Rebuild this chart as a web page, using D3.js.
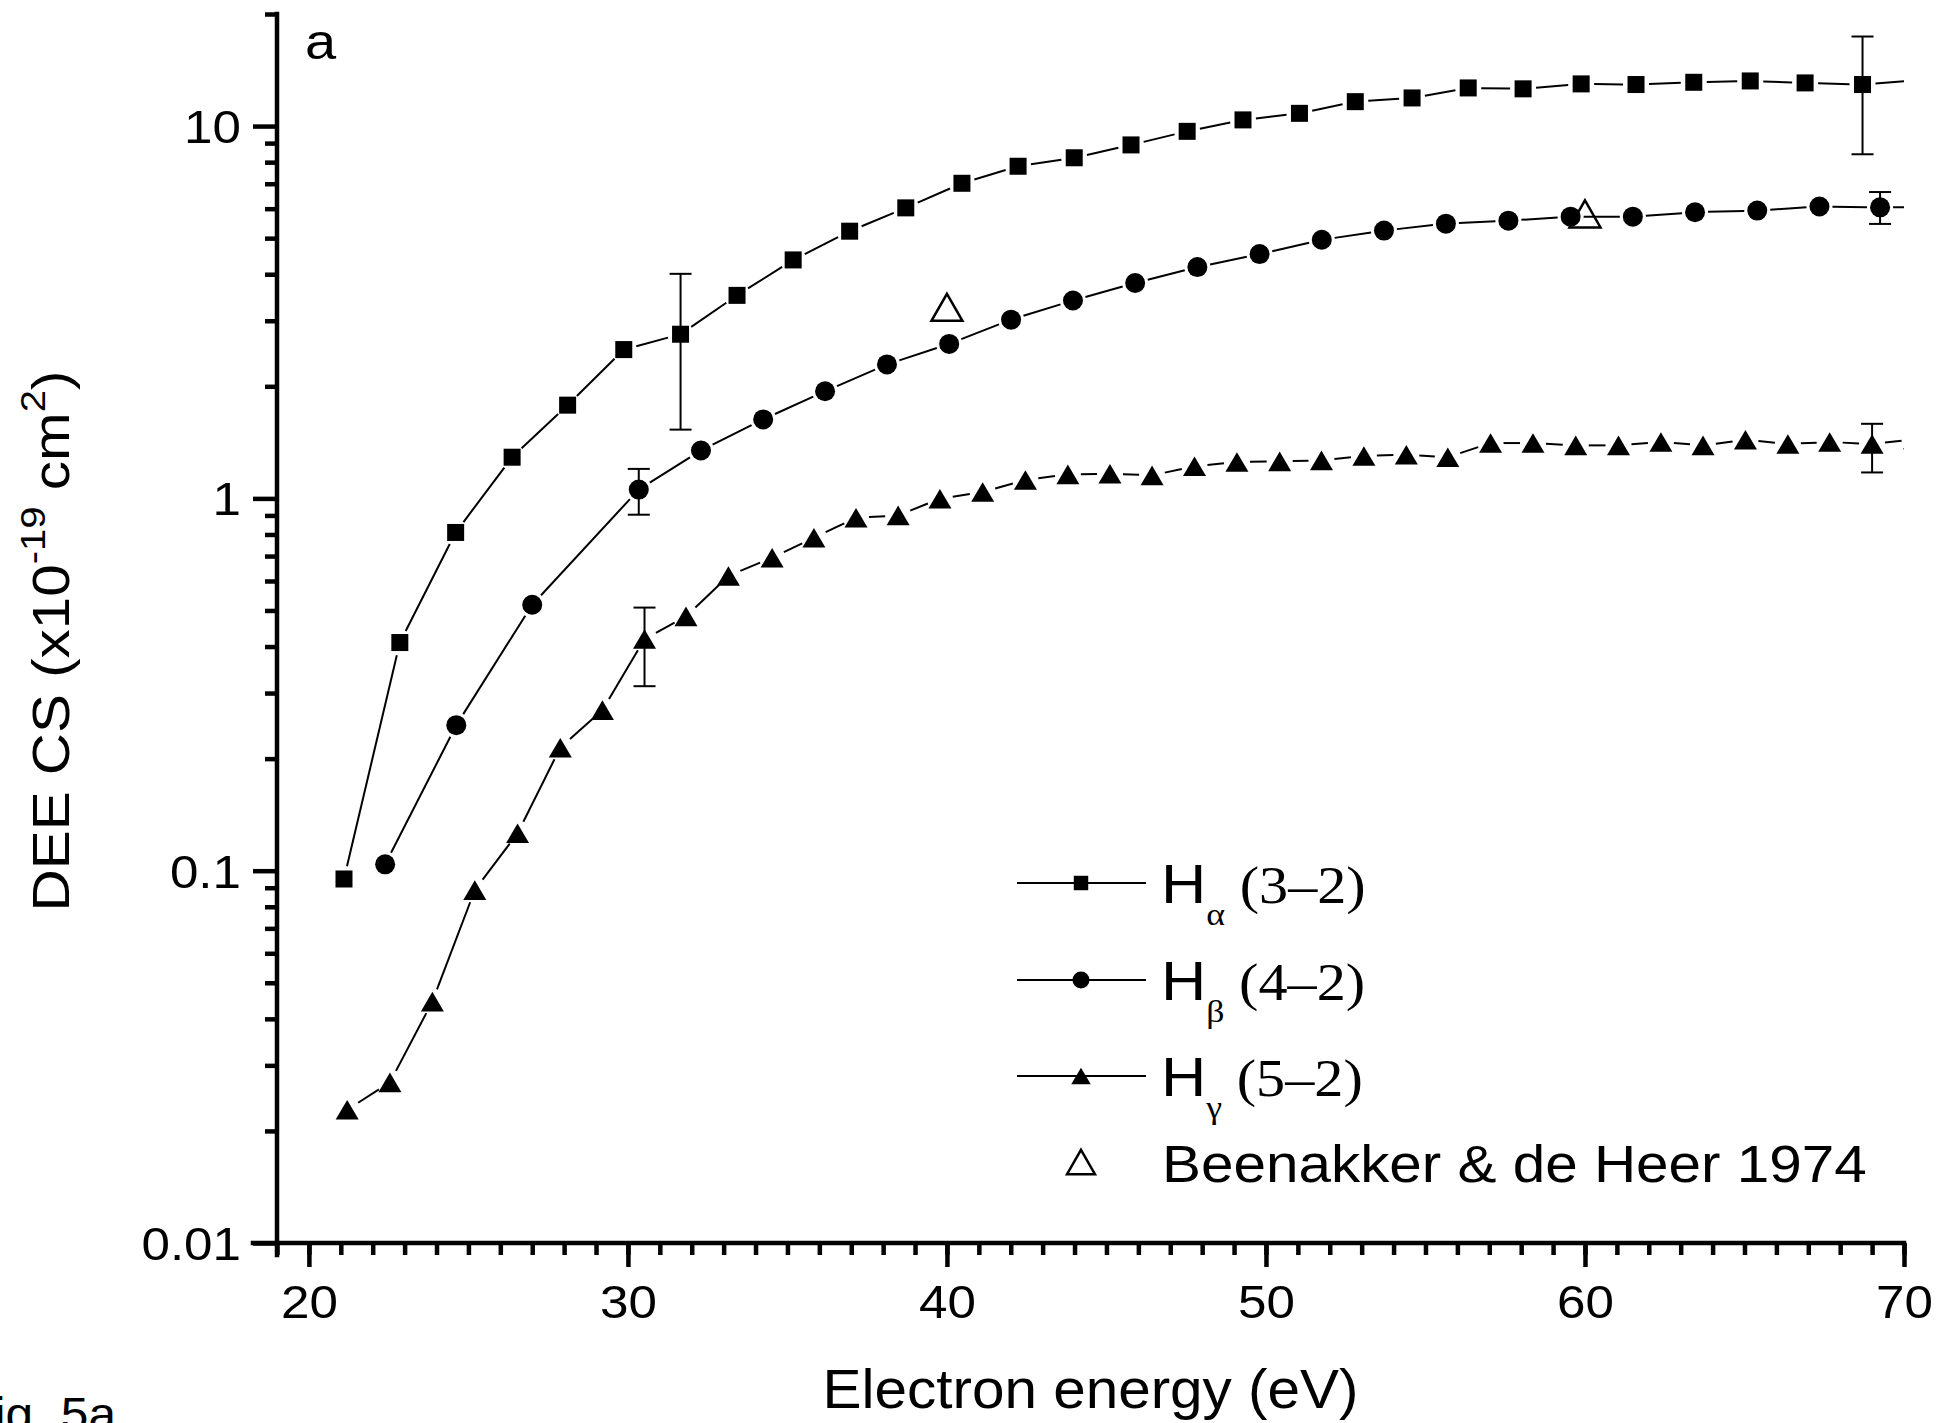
<!DOCTYPE html>
<html><head><meta charset="utf-8">
<script src="https://cdn.jsdelivr.net/npm/d3@7"></script>
<style>
html,body{margin:0;padding:0;background:#fff;}
svg{display:block;}
</style></head><body>
<svg id="chart" width="1936" height="1423"></svg>
<script>
// ---------------- data ----------------
const xDomain = [19, 70];
const yDomain = [0.01, 20];
const xMajorTicks = [20, 30, 40, 50, 60, 70];
const xMinorTicks = d3.range(19, 71, 1);
const yMajorTicks = [0.01, 0.1, 1, 10];
const yMinorTicks = [0.02,0.03,0.04,0.05,0.06,0.07,0.08,0.09,0.2,0.3,0.4,0.5,0.6,0.7,0.8,0.9,2,3,4,5,6,7,8,9,20];

// H-alpha (3-2)
const energyHa = [21.1,22.85,24.6,26.37,28.11,29.87,31.65,33.42,35.18,36.95,38.71,40.47,42.23,43.99,45.77,47.53,49.28,51.05,52.8,54.58,56.34,58.06,59.88,61.6,63.41,65.18,66.9,68.7,70.47];
const valueHa  = [0.095,0.41,0.81,1.29,1.78,2.51,2.76,3.51,4.37,5.22,6.03,7.02,7.8,8.22,8.9,9.68,10.39,10.82,11.63,11.9,12.66,12.59,12.98,12.93,13.11,13.22,13.06,12.93,13.3];
// H-beta (4-2)
const energyHb = [22.39,24.62,27.0,30.34,32.29,34.24,36.18,38.12,40.07,42.01,43.95,45.9,47.85,49.8,51.75,53.7,55.64,57.6,59.55,61.5,63.45,65.4,67.35,69.25,71.2];
const valueHb  = [0.104,0.246,0.518,1.056,1.345,1.63,1.94,2.29,2.60,3.02,3.40,3.79,4.18,4.53,4.95,5.24,5.47,5.57,5.71,5.71,5.87,5.93,6.08,6.05,6.05];
// H-gamma (5-2)
const energyHg = [21.2,22.54,23.87,25.2,26.54,27.88,29.2,30.52,31.82,33.15,34.52,35.83,37.15,38.47,39.78,41.12,42.46,43.79,45.11,46.43,47.76,49.09,50.43,51.74,53.07,54.4,55.7,57.04,58.37,59.71,61.05,62.38,63.7,65.03,66.36,67.67,69.0,70.33];
const valueHg  = [0.0228,0.027,0.0445,0.0887,0.126,0.214,0.27,0.419,0.482,0.619,0.693,0.784,0.887,0.90,0.998,1.04,1.12,1.16,1.165,1.153,1.22,1.252,1.257,1.265,1.30,1.31,1.29,1.408,1.408,1.388,1.388,1.417,1.388,1.437,1.40,1.417,1.40,1.44];
// error bars: [energy, low, high]
const errorHa = [[31.65,1.53,4.01],[68.7,8.4,17.4]];
const errorHb = [[30.34,0.904,1.20],[69.25,5.46,6.65]];
const errorHg = [[30.52,0.313,0.509],[69.0,1.174,1.586]];
// Beenakker & de Heer 1974
const energyBH = [40.0, 60.0];
const valueBH  = [3.26, 5.81];

const legendSub = ["\u03b1", "\u03b2", "\u03b3"];
const legendTrans = ["(3\u20132)", "(4\u20132)", "(5\u20132)"];
const legendRef = "Beenakker & de Heer 1974";
const xTitle = "Electron energy (eV)";
const panelLabel = "a";
const figLabel = "Fig. 5a";

// ---------------- layout ----------------
const SANS = "'Liberation Sans', Arial, sans-serif";
const SERIF = "'Liberation Serif', 'Times New Roman', serif";
const svg = d3.select('#chart');
const x = d3.scaleLinear().domain(xDomain).range([277, 1904]);
const y = d3.scaleLog().domain(yDomain).range([1243, 14]);
const X0 = x.range()[0], X1 = x.range()[1], Y0 = y.range()[0], Y1 = y.range()[1];
const AXW = 4.5, LW = 2;

svg.append('defs').append('clipPath').attr('id','plotclip')
  .append('rect').attr('x', X0).attr('y', Y1).attr('width', X1 - X0).attr('height', Y0 - Y1);

const plot = svg.append('g').attr('clip-path','url(#plotclip)');

function pts(es, vs){ return es.map((e,i)=>[x(e), y(vs[i])]); }
function gapped(p, gap){
  const segs=[];
  for(let i=0;i<p.length-1;i++){
    const [x1,y1]=p[i],[x2,y2]=p[i+1];
    const dx=x2-x1, dy=y2-y1, L=Math.hypot(dx,dy);
    if(L<=2*gap) continue;
    const ux=dx/L, uy=dy/L;
    segs.push([x1+ux*gap,y1+uy*gap,x2-ux*gap,y2-uy*gap]);
  }
  return segs;
}
const series = [
  {e:energyHa, v:valueHa, err:errorHa, shape:'square'},
  {e:energyHb, v:valueHb, err:errorHb, shape:'circle'},
  {e:energyHg, v:valueHg, err:errorHg, shape:'triangle'}
];
function marker(g, shape, cx, cy, s){
  if(shape==='square'){
    g.append('rect').attr('x',cx-8.5*s).attr('y',cy-8.5*s).attr('width',17*s).attr('height',17*s).attr('fill','#000');
  } else if(shape==='circle'){
    g.append('circle').attr('cx',cx).attr('cy',cy).attr('r',10*s).attr('fill','#000');
  } else if(shape==='triangle'){
    g.append('path').attr('d',`M${cx},${cy-9.8*s}L${cx+11.5*s},${cy+9.8*s}L${cx-11.5*s},${cy+9.8*s}Z`).attr('fill','#000');
  } else if(shape==='open'){
    g.append('path').attr('d',`M${cx},${cy-13.5*s}L${cx+15.5*s},${cy+13.5*s}L${cx-15.5*s},${cy+13.5*s}Z`)
      .attr('fill','none').attr('stroke','#000').attr('stroke-width',2.5).attr('stroke-linejoin','miter');
  }
}
// lines
series.forEach(sr=>{
  const p = pts(sr.e, sr.v);
  plot.append('g').selectAll('line').data(gapped(p, 13)).join('line')
    .attr('x1',d=>d[0]).attr('y1',d=>d[1]).attr('x2',d=>d[2]).attr('y2',d=>d[3])
    .attr('stroke','#000').attr('stroke-width',LW);
});
// error bars
series.forEach(sr=>{
  const g = plot.append('g').attr('stroke','#000').attr('stroke-width',LW);
  sr.err.forEach(([e,lo,hi])=>{
    const cx=x(e);
    g.append('line').attr('x1',cx).attr('x2',cx).attr('y1',y(lo)).attr('y2',y(hi));
    g.append('line').attr('x1',cx-11).attr('x2',cx+11).attr('y1',y(lo)).attr('y2',y(lo));
    g.append('line').attr('x1',cx-11).attr('x2',cx+11).attr('y1',y(hi)).attr('y2',y(hi));
  });
});
// markers
series.forEach(sr=>{
  const g = plot.append('g');
  pts(sr.e, sr.v).forEach(([cx,cy])=>marker(g, sr.shape, cx, cy, 1));
});
const gbh = plot.append('g');
pts(energyBH, valueBH).forEach(([cx,cy])=>marker(gbh,'open',cx,cy,1));

// ---------------- axes ----------------
function styleAxis(g){
  g.attr('font-family', null).attr('font-size', null);
  g.selectAll('line').attr('stroke','#000').attr('stroke-width',AXW);
  g.selectAll('path.domain').attr('stroke','#000').attr('stroke-width',AXW).attr('stroke-linecap','square');
}
const TS = 1.1; // horizontal text stretch
// x minor
const gxm = svg.append('g').attr('transform',`translate(0,${Y0})`)
  .call(d3.axisBottom(x).tickValues(xMinorTicks).tickSize(12).tickSizeOuter(0).tickFormat(''));
gxm.select('.domain').remove();
styleAxis(gxm);
const gx = svg.append('g').attr('transform',`translate(0,${Y0})`)
  .call(d3.axisBottom(x).tickValues(xMajorTicks).tickSize(24).tickSizeOuter(0).tickFormat(d3.format('d')));
styleAxis(gx);
gx.select('.domain').attr('d', `M${X0-24},0H${X1}`);
gx.selectAll('text').attr('y',null).attr('dy',null)
  .attr('transform',`translate(0,75) scale(${TS},1)`)
  .attr('font-family',SANS).attr('font-size',46.5).attr('fill','#000');
// y minor
const gym = svg.append('g').attr('transform',`translate(${X0},0)`)
  .call(d3.axisLeft(y).tickValues(yMinorTicks).tickSize(12).tickSizeOuter(0).tickFormat(''));
gym.select('.domain').remove();
styleAxis(gym);
const gy = svg.append('g').attr('transform',`translate(${X0},0)`)
  .call(d3.axisLeft(y).tickValues(yMajorTicks).tickSize(24).tickSizeOuter(0).tickFormat(d=>String(d)));
styleAxis(gy);
gy.select('.domain').attr('d', `M0,${Y0+12}V${Y1}`);
gy.selectAll('text').attr('x',null).attr('dy',null)
  .attr('transform',`translate(-36,16.6) scale(${TS},1)`)
  .attr('font-family',SANS).attr('font-size',46.5).attr('fill','#000');

// ---------------- titles ----------------
function fit(sel, target){
  const w = sel.node().getBBox().width;
  return target / w;
}
// x title
const xt = svg.append('text').attr('font-family',SANS).attr('font-size',56).attr('text-anchor','middle').text(xTitle);
const sxt = fit(xt, 536);
xt.attr('transform',`translate(${(X0+X1)/2},1408) scale(${sxt},1)`);
// y title
const yt = svg.append('text').attr('font-family',SANS).attr('font-size',51).attr('text-anchor','middle');
yt.append('tspan').text('DEE CS (x10');
yt.append('tspan').attr('font-size',35).attr('dy',-23.5).text('-19');
yt.append('tspan').attr('dy',23.5).text('\u00a0cm');
yt.append('tspan').attr('font-size',35).attr('dy',-23.5).text('2');
yt.append('tspan').attr('dy',23.5).text(')');
const syt = fit(yt, 541);
yt.attr('transform',`translate(68.5,641) rotate(-90) scale(${syt},1)`);
// panel label
svg.append('text').attr('font-family',SANS).attr('font-size',50).attr('transform',`translate(305,59) scale(1.12,1)`).text(panelLabel);
// fig label (cut off at the page edge, as in the original)
svg.append('text').attr('font-family',SANS).attr('font-size',46).attr('text-anchor','end')
  .attr('transform',`translate(116,1430) scale(1.08,1)`).text(figLabel);

// ---------------- legend ----------------
const legRows = [883, 980, 1076];
const lg = svg.append('g');
legRows.forEach((ly,i)=>{
  lg.append('line').attr('x1',1017).attr('x2',1146).attr('y1',ly).attr('y2',ly).attr('stroke','#000').attr('stroke-width',LW);
  marker(lg, series[i].shape, 1081, ly, 0.85);
  const t = lg.append('text').attr('transform',`translate(1161,${ly+20}) scale(1.12,1)`).attr('fill','#000');
  t.append('tspan').attr('font-family',SANS).attr('font-size',56).text('H');
  t.append('tspan').attr('font-family',SERIF).attr('font-size',32).attr('dy',22).text(legendSub[i]);
  t.append('tspan').attr('font-family',SERIF).attr('font-size',52).attr('dy',-22).text('\u00a0' + legendTrans[i]);
});
marker(lg, 'open', 1081, 1162, 0.9);
const bt = lg.append('text').attr('font-family',SANS).attr('font-size',51).text(legendRef);
const sbt = fit(bt, 705);
bt.attr('transform',`translate(1162,1182) scale(${sbt},1)`);
</script>
</body></html>
